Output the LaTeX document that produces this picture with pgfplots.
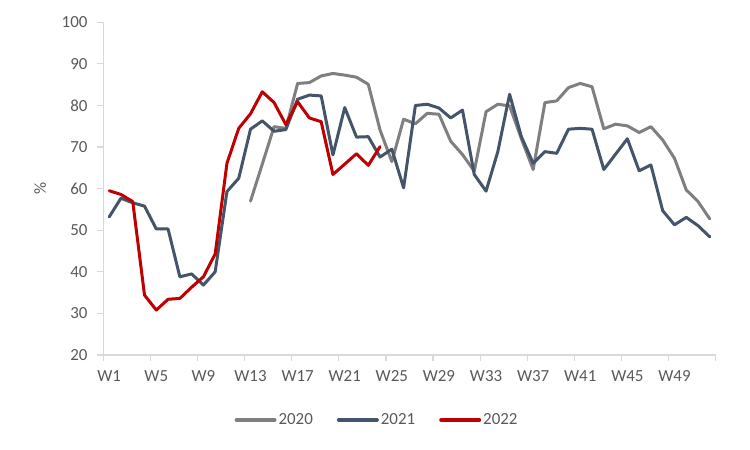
\documentclass[border=0pt]{standalone}
\usepackage{pgfplots}
\pgfplotsset{compat=1.18}
\usepackage{fontspec}
\setmainfont{Carlito}
\definecolor{c2020}{HTML}{7F7F7F}
\definecolor{c2021}{HTML}{44546A}
\definecolor{c2022}{HTML}{C00000}
\definecolor{axgray}{HTML}{D9D9D9}
\definecolor{txt}{HTML}{595959}
\begin{document}
\begin{tikzpicture}
\fontsize{17}{20}\selectfont
\useasboundingbox (-103.3bp,-95bp) rectangle (646.7bp,355bp);
\begin{axis}[
  at={(0,0)}, anchor=south west,
  scale only axis,
  width=612.4bp, height=332.7bp,
  xmin=0.5, xmax=52.5, ymin=20, ymax=100,
  axis x line*=bottom, axis y line*=left,
  axis line style={axgray, line width=1.2bp, -},
  xtick={1,5,...,49},
  xticklabels={W1,W5,W9,W13,W17,W21,W25,W29,W33,W37,W41,W45,W49},
  minor xtick={0.5,4.5,...,52.5},
  major x tick style={draw=none},
  minor tick length=6bp,
  ytick={20,30,...,100},
  major tick length=6bp,
  tick align=outside,
  tick style={axgray, line width=1.2bp},
  tick label style={font=\fontsize{17}{20}\selectfont, text=txt},
  /pgf/number format/assume math mode=true,
  xticklabel style={yshift=-4bp},
  yticklabel style={xshift=-4bp},
  ylabel={\%},
  ylabel style={at={(axis description cs:-0.103,0.502)}, anchor=center, rotate=0, text=txt, font=\fontsize{17}{20}\selectfont},
  legend columns=3,
  legend style={at={(axis description cs:0.447,-0.195)}, anchor=center, draw=none, fill=none,
    font=\fontsize{17}{20}\selectfont, text=txt,
    /tikz/every even column/.append style={column sep=22bp}},
  legend image code/.code={\draw[#1, line width=4bp] (0bp,0bp) -- (38bp,0bp);},
  every axis plot/.append style={line width=3bp, line join=round, line cap=round},
]
\addplot[c2020] coordinates {
(13,57.0) (14,65.9) (15,74.9) (16,74.5) (17,85.3) (18,85.5) (19,87.1) (20,87.7)
(21,87.3) (22,86.8) (23,85.1) (24,74.1) (25,66.5) (26,76.7) (27,75.6) (28,78.1)
(29,77.9) (30,71.4) (31,68.2) (32,64.2) (33,78.5) (34,80.3) (35,79.9) (36,72.0)
(37,64.6) (38,80.7) (39,81.1) (40,84.3) (41,85.3) (42,84.5) (43,74.4) (44,75.5)
(45,75.1) (46,73.5) (47,74.9) (48,71.7) (49,67.3) (50,59.7) (51,56.9) (52,52.7)
};
\addlegendentry{2020}
\addplot[c2021] coordinates {
(1,53.2) (2,57.7) (3,56.6) (4,55.8) (5,50.3) (6,50.3) (7,38.8) (8,39.5)
(9,36.8) (10,40.0) (11,59.3) (12,62.5) (13,74.3) (14,76.3) (15,73.8) (16,74.2)
(17,81.5) (18,82.5) (19,82.3) (20,68.1) (21,79.5) (22,72.4) (23,72.5) (24,67.6)
(25,69.5) (26,60.2) (27,80.0) (28,80.3) (29,79.4) (30,77.0) (31,78.9) (32,63.4)
(33,59.4) (34,68.9) (35,82.7) (36,72.5) (37,66.1) (38,68.9) (39,68.5) (40,74.3)
(41,74.5) (42,74.3) (43,64.6) (44,68.3) (45,72.0) (46,64.3) (47,65.7) (48,54.7)
(49,51.3) (50,53.1) (51,51.1) (52,48.4)
};
\addlegendentry{2021}
\addplot[c2022] coordinates {
(1,59.5) (2,58.6) (3,56.9) (4,34.4) (5,30.8) (6,33.4) (7,33.6) (8,36.3)
(9,38.8) (10,44.3) (11,66.1) (12,74.5) (13,78.0) (14,83.3) (15,80.7) (16,75.4)
(17,80.9) (18,77.0) (19,76.1) (20,63.4) (21,65.9) (22,68.4) (23,65.6) (24,70.1)
};
\addlegendentry{2022}
\end{axis}
\end{tikzpicture}
\end{document}
